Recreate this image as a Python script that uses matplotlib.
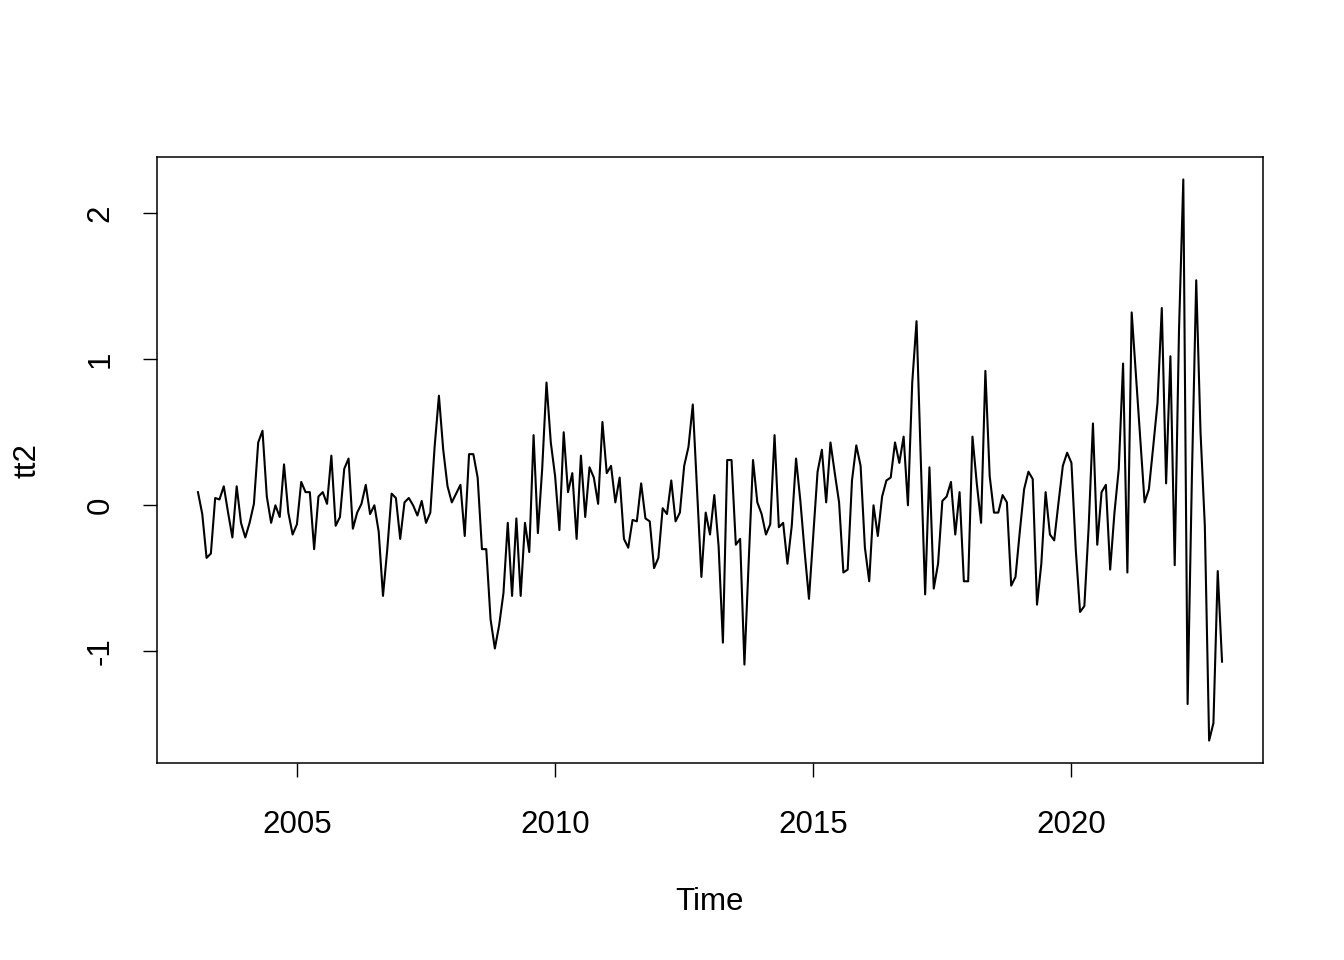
import matplotlib.pyplot as plt
import numpy as np

plt.rcParams['font.family'] = ['Liberation Sans', 'DejaVu Sans']

# monthly series, starts Feb 2003
start_year = 2003
start_month = 2
tt2 = [
  0.09, -0.06, -0.36, -0.33, 0.05, 0.04, 0.13, -0.05, -0.22, 0.13, -0.12,
  -0.22, -0.12, 0.01, 0.43, 0.51, 0.06, -0.12, 0.00, -0.08, 0.28, -0.05,
  -0.20, -0.13, 0.16, 0.09, 0.09, -0.30, 0.06, 0.09, 0.01, 0.34, -0.14,
  -0.08, 0.25, 0.32, -0.16, -0.05, 0.01, 0.14, -0.06, 0.00, -0.18, -0.62,
  -0.30, 0.08, 0.05, -0.23, 0.02, 0.05, 0.00, -0.07, 0.03, -0.12, -0.05,
  0.40, 0.75, 0.38, 0.13, 0.02, 0.08, 0.14, -0.21, 0.35, 0.35, 0.19, -0.30,
  -0.30, -0.78, -0.98, -0.82, -0.60, -0.12, -0.62, -0.09, -0.62, -0.12,
  -0.32, 0.48, -0.19, 0.25, 0.84, 0.43, 0.20, -0.17, 0.50, 0.09, 0.22,
  -0.23, 0.34, -0.08, 0.26, 0.19, 0.01, 0.57, 0.22, 0.27, 0.02, 0.19,
  -0.23, -0.29, -0.10, -0.11, 0.15, -0.09, -0.11, -0.43, -0.36, -0.02,
  -0.06, 0.17, -0.11, -0.05, 0.27, 0.40, 0.69, 0.10, -0.49, -0.05, -0.20,
  0.07, -0.28, -0.94, 0.31, 0.31, -0.27, -0.23, -1.09, -0.38, 0.31, 0.02,
  -0.06, -0.20, -0.13, 0.48, -0.15, -0.12, -0.40, -0.14, 0.32, 0.03, -0.32,
  -0.64, -0.20, 0.23, 0.38, 0.02, 0.43, 0.22, 0.02, -0.46, -0.44, 0.17,
  0.41, 0.27, -0.29, -0.52, 0.00, -0.21, 0.06, 0.17, 0.19, 0.43, 0.29,
  0.47, 0.00, 0.84, 1.26, 0.30, -0.61, 0.26, -0.57, -0.40, 0.03, 0.06,
  0.16, -0.20, 0.09, -0.52, -0.52, 0.47, 0.15, -0.12, 0.92, 0.20, -0.05,
  -0.05, 0.07, 0.02, -0.55, -0.49, -0.18, 0.11, 0.23, 0.18, -0.68, -0.40,
  0.09, -0.20, -0.24, 0.02, 0.27, 0.36, 0.29, -0.30, -0.73, -0.69, -0.15,
  0.56, -0.27, 0.09, 0.14, -0.44, -0.05, 0.25, 0.97, -0.46, 1.32, 0.89,
  0.45, 0.02, 0.11, 0.40, 0.70, 1.35, 0.15, 1.02, -0.41, 1.20, 2.23, -1.36,
  0.20, 1.54, 0.50, -0.14, -1.61, -1.49, -0.45, -1.07,
]
x_ticks = [2005, 2010, 2015, 2020]
y_ticks = [-1, 0, 1, 2]

tt2 = np.array(tt2)
t = start_year + (start_month - 1 + np.arange(len(tt2))) / 12

fig = plt.figure(figsize=(13.44, 9.6), dpi=100)
ax = fig.add_axes([157 / 1344, 1 - 763 / 960, (1263 - 157) / 1344, (763 - 157) / 960])
ax.plot(t, tt2, color='black', lw=1.5)

# R style 4% padding
xr = t.max() - t.min()
yr = tt2.max() - tt2.min()
ax.set_xlim(t.min() - 0.04 * xr, t.max() + 0.04 * xr)
ax.set_ylim(tt2.min() - 0.04 * yr, tt2.max() + 0.04 * yr)

ax.set_xticks(x_ticks)
ax.set_xticklabels([str(v) for v in x_ticks])
ax.set_yticks(y_ticks)
ax.set_yticklabels([str(v) for v in y_ticks], rotation=90, va='center')
ax.tick_params(axis='both', length=10, width=1, labelsize=22.5, color='black')
ax.tick_params(axis='x', pad=24)
ax.tick_params(axis='y', pad=20)
for s in ax.spines.values():
  s.set_linewidth(1.1)

fig.text(710 / 1344, 1 - 902 / 960, 'Time', ha='center', va='center', fontsize=22.5)
fig.text(28 / 1344, 1 - 460 / 960, 'tt2', ha='center', va='center', fontsize=22.5, rotation=90)

plt.savefig('out.png', dpi=100)
